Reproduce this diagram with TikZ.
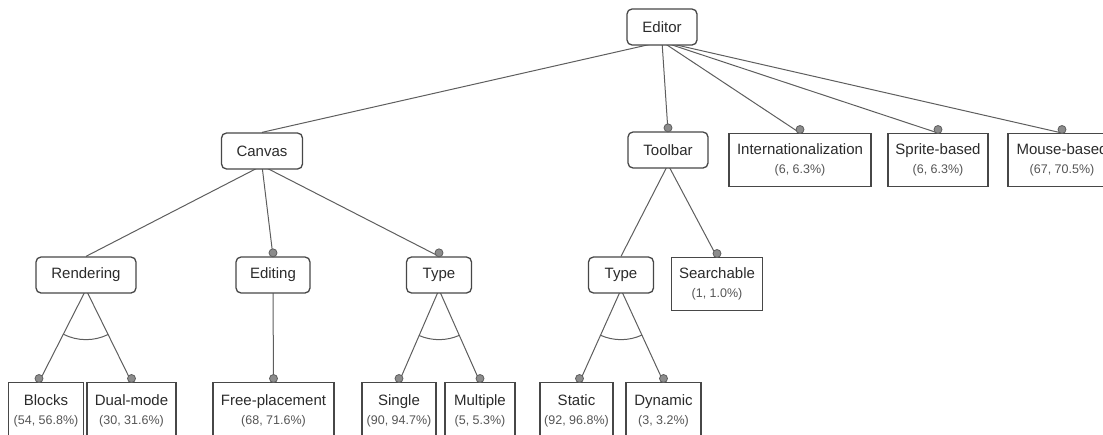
\documentclass[tikz,border=0pt]{standalone}
\usepackage{fontspec}
\setmainfont{Liberation Sans}
\usetikzlibrary{calc}
\pgfdeclarelayer{bg}
\pgfsetlayers{bg,main}
\definecolor{edgec}{HTML}{5E5E5E}
\definecolor{boxc}{HTML}{474747}
\definecolor{dotc}{HTML}{8C8C8C}
\definecolor{txtc}{HTML}{2B2B2B}
\definecolor{cntc}{HTML}{555555}
\newcommand{\cnt}[1]{\\[1pt]{\fontsize{12.5}{15}\selectfont\color{cntc}#1}}
\begin{document}
\begin{tikzpicture}[x=1pt,y=1pt,
  feat/.style={draw=boxc, line width=1.3pt, rounded corners=5pt, fill=white, text=txtc,
    font=\fontsize{15}{18}\selectfont, minimum height=36pt, inner sep=0pt},
  leaf/.style={draw=boxc, line width=1.3pt, fill=white, text=txtc,
    font=\fontsize{15}{18}\selectfont, minimum height=53pt, inner sep=0pt, align=center, anchor=north},
  conn/.style={draw=edgec, line width=1pt},
  dot/.style={circle, draw=edgec, fill=dotc, line width=0.8pt, minimum size=8pt, inner sep=0pt},
]
\useasboundingbox (0,0) rectangle (1103,-434);
\clip (0,0) rectangle (1103,-434);

% nodes
\node[feat, minimum width=70pt] (editor) at (662,-27) {Editor};
\node[feat, minimum width=81pt] (canvas) at (262,-151) {Canvas};
\node[feat, minimum width=80pt] (toolbar) at (668,-150) {Toolbar};
\node[leaf, minimum width=142pt] (intl) at (800,-133) {Internationalization\cnt{(6, 6.3\%)}};
\node[leaf, minimum width=100pt] (sprite) at (938,-133) {Sprite-based\cnt{(6, 6.3\%)}};
\node[leaf, minimum width=108pt] (mouse) at (1062,-133) {Mouse-based\cnt{(67, 70.5\%)}};

\node[feat, minimum width=100pt] (render) at (86,-275) {Rendering};
\node[feat, minimum width=74pt] (editing) at (273,-275) {Editing};
\node[feat, minimum width=65pt] (typea) at (439,-275) {Type};
\node[feat, minimum width=65pt] (typeb) at (621,-275) {Type};
\node[leaf, minimum width=91pt] (search) at (717,-257) {Searchable\cnt{(1, 1.0\%)}};

\node[leaf, minimum width=75pt, minimum height=56pt] (blocks) at (46,-382) {Blocks\cnt{(54, 56.8\%)}};
\node[leaf, minimum width=89pt, minimum height=56pt] (dual) at (131.5,-382) {Dual-mode\cnt{(30, 31.6\%)}};
\node[leaf, minimum width=121pt, minimum height=56pt] (free) at (273.5,-382) {Free-placement\cnt{(68, 71.6\%)}};
\node[leaf, minimum width=74pt, minimum height=56pt] (single) at (399,-382) {Single\cnt{(90, 94.7\%)}};
\node[leaf, minimum width=70pt, minimum height=56pt] (multiple) at (480,-382) {Multiple\cnt{(5, 5.3\%)}};
\node[leaf, minimum width=73pt, minimum height=56pt] (static) at (576.5,-382) {Static\cnt{(92, 96.8\%)}};
\node[leaf, minimum width=75pt, minimum height=56pt] (dynamic) at (663.5,-382) {Dynamic\cnt{(3, 3.2\%)}};

% edge end points
\coordinate (blocksT) at ($(blocks.north)+(-7,0)$);
\coordinate (staticT) at ($(static.north)+(3,0)$);
% edge start points (hidden behind the parent box)
\coordinate (editorS) at ($(editor.south)+(0,4)$);
\coordinate (canvasS) at ($(canvas.south)+(0,4)$);
\coordinate (toolbarS) at ($(toolbar.south)+(0,4)$);
\coordinate (renderS) at ($(render.south)+(0,4)$);
\coordinate (editingS) at ($(editing.south)+(0,4)$);
\coordinate (typeaS) at ($(typea.south)+(0,4)$);
\coordinate (typebS) at ($(typeb.south)+(0,4)$);

\begin{pgfonlayer}{bg}
\draw[conn] (editorS) -- (canvas.north);
\draw[conn] (editorS) -- (toolbar.north);
\draw[conn] (editorS) -- (intl.north);
\draw[conn] (editorS) -- (sprite.north);
\draw[conn] (editorS) -- (mouse.north);
\draw[conn] (canvasS) -- (render.north);
\draw[conn] (canvasS) -- (editing.north);
\draw[conn] (canvasS) -- (typea.north);
\draw[conn] (toolbarS) -- (typeb.north);
\draw[conn] (toolbarS) -- (search.north);
\draw[conn] (renderS) -- (blocksT);
\draw[conn] (renderS) -- (dual.north);
\draw[conn] (editingS) -- (free.north);
\draw[conn] (typeaS) -- (single.north);
\draw[conn] (typeaS) -- (multiple.north);
\draw[conn] (typebS) -- (staticT);
\draw[conn] (typebS) -- (dynamic.north);
% alternative-group arcs
\draw[conn] let \p0=(renderS), \p1=($(blocksT)-(renderS)$), \p2=($(dual.north)-(renderS)$),
  \n1={atan2(\y1,\x1)}, \n2={atan2(\y2,\x2)} in
  ($(renderS)+(\n1:50pt)$) arc[start angle=\n1, end angle=\n2, radius=50pt];
\draw[conn] let \p1=($(single.north)-(typeaS)$), \p2=($(multiple.north)-(typeaS)$),
  \n1={atan2(\y1,\x1)}, \n2={atan2(\y2,\x2)} in
  ($(typeaS)+(\n1:50pt)$) arc[start angle=\n1, end angle=\n2, radius=50pt];
\draw[conn] let \p1=($(staticT)-(typebS)$), \p2=($(dynamic.north)-(typebS)$),
  \n1={atan2(\y1,\x1)}, \n2={atan2(\y2,\x2)} in
  ($(typebS)+(\n1:50pt)$) arc[start angle=\n1, end angle=\n2, radius=50pt];
\end{pgfonlayer}

% mandatory markers
\foreach \t in {toolbar.north, intl.north, sprite.north, mouse.north, editing.north, typea.north,
  search.north, blocksT, dual.north, free.north, single.north, multiple.north, staticT, dynamic.north}
  \node[dot] at ($(\t)+(0,3.5)$) {};
\end{tikzpicture}
\end{document}
